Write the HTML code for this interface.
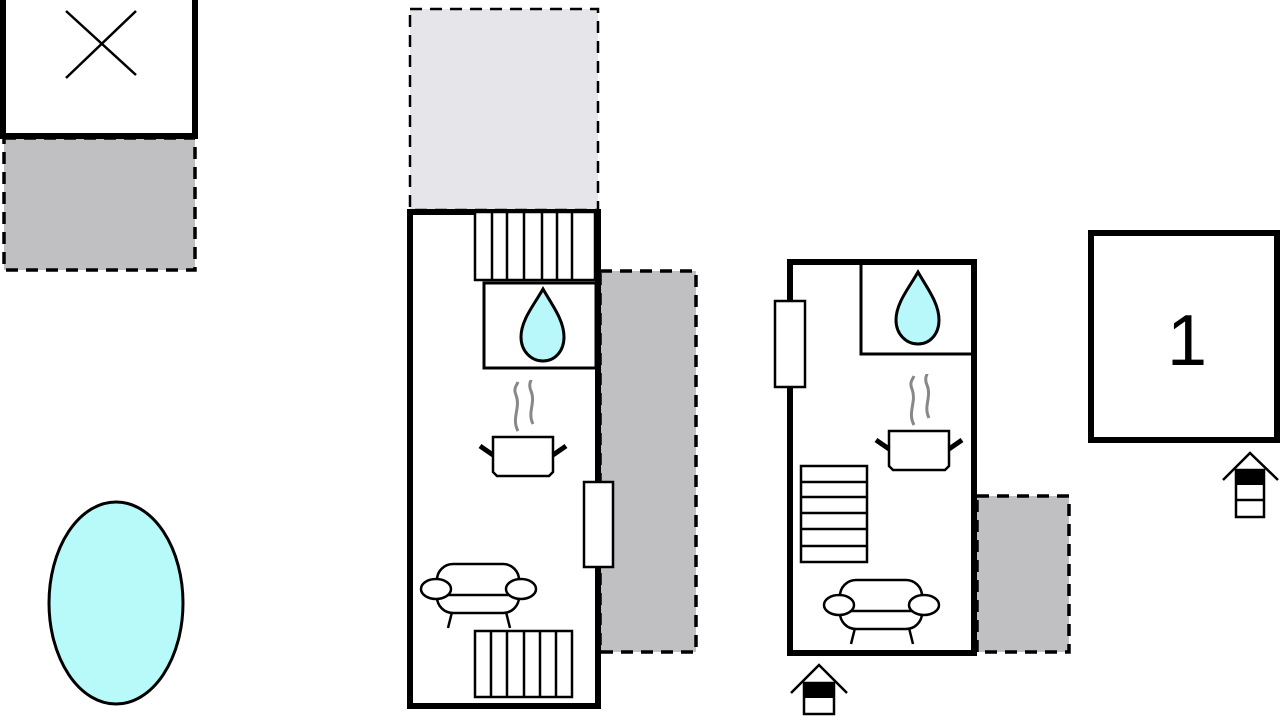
<!DOCTYPE html>
<html><head><meta charset="utf-8"><style>html,body{margin:0;padding:0;background:#fff;}svg{display:block}</style></head>
<body>
<svg width="1280" height="720" viewBox="0 0 1280 720" xmlns="http://www.w3.org/2000/svg">
<defs>
<g id="sofa" fill="#fff" stroke="#000" stroke-width="2.5">
  <line x1="452" y1="612" x2="448" y2="628"/>
  <line x1="506" y1="612" x2="510" y2="628"/>
  <rect x="437" y="564" width="82" height="49" rx="16"/>
  <line x1="445" y1="595" x2="512" y2="595"/>
  <ellipse cx="436" cy="589" rx="15" ry="10"/>
  <ellipse cx="521" cy="589" rx="15" ry="10"/>
</g>
<g id="pot" stroke-width="2.5">
  <path d="M493,437 H553 V472 L549,476 H497 L493,472 Z" fill="#fff" stroke="#000"/>
  <line x1="480" y1="446" x2="493" y2="455" stroke="#000" stroke-width="5"/>
  <line x1="566" y1="446" x2="553" y2="455" stroke="#000" stroke-width="5"/>
  <path d="M518,431 C511,418 521,408 516,395 C513,388 517,385 518,382" fill="none" stroke="#888" stroke-width="3"/>
  <path d="M533,424 C527,412 536,403 531,391 C528,384 531,381 531,380" fill="none" stroke="#888" stroke-width="3"/>
</g>
<path id="drop" d="M543,289 C534,305 521,320 521,337 C521,351 531,361 543,361 C555,361 564,351 564,337 C564,320 552,305 543,289 Z" fill="#b8f8fa" stroke="#000" stroke-width="3"/>
</defs>

<!-- top-left box -->
<rect x="4" y="138" width="191" height="132" fill="#c0c0c2" stroke="#000" stroke-width="3.5" stroke-dasharray="12,8"/>
<rect x="3" y="-10" width="192" height="146" fill="#fff" stroke="#000" stroke-width="6"/>
<line x1="66" y1="11" x2="136" y2="75" stroke="#000" stroke-width="2.5"/>
<line x1="66" y1="78" x2="136" y2="11" stroke="#000" stroke-width="2.5"/>

<!-- pool -->
<ellipse cx="116" cy="603" rx="67" ry="101" fill="#b8fafa" stroke="#000" stroke-width="3"/>

<!-- building 1 -->
<rect x="410" y="9" width="188" height="201" fill="#e6e6ea" stroke="#000" stroke-width="2.5" stroke-dasharray="12,8"/>
<rect x="600" y="271" width="96" height="381" fill="#c0c0c2" stroke="#000" stroke-width="3.5" stroke-dasharray="12,8"/>
<rect x="410" y="212" width="188" height="494" fill="#fff" stroke="#000" stroke-width="6"/>
<g fill="none" stroke="#000" stroke-width="2.5">
  <rect x="475" y="212" width="120" height="68" fill="#fff"/>
  <line x1="492" y1="212" x2="492" y2="280"/><line x1="507" y1="212" x2="507" y2="280"/>
  <line x1="524" y1="212" x2="524" y2="280"/><line x1="542" y1="212" x2="542" y2="280"/>
  <line x1="557" y1="212" x2="557" y2="280"/><line x1="572" y1="212" x2="572" y2="280"/>
  <rect x="484" y="283" width="112" height="85" stroke-width="3"/>
  <rect x="475" y="631" width="97" height="66"/>
  <line x1="491" y1="631" x2="491" y2="697"/><line x1="507" y1="631" x2="507" y2="697"/>
  <line x1="524" y1="631" x2="524" y2="697"/><line x1="540" y1="631" x2="540" y2="697"/>
  <line x1="556" y1="631" x2="556" y2="697"/>
</g>
<rect x="584" y="482" width="29" height="85" fill="#fff" stroke="#000" stroke-width="2.5"/>
<use href="#drop"/>
<use href="#pot"/>
<use href="#sofa"/>

<!-- building 2 -->
<rect x="977" y="496" width="92" height="156" fill="#c0c0c2" stroke="#000" stroke-width="3.5" stroke-dasharray="12,8"/>
<rect x="790" y="262" width="184" height="391" fill="#fff" stroke="#000" stroke-width="6"/>
<rect x="861" y="262" width="112" height="92" fill="none" stroke="#000" stroke-width="3"/>
<rect x="775" y="301" width="30" height="86" fill="#fff" stroke="#000" stroke-width="2.5"/>
<g fill="none" stroke="#000" stroke-width="2.5">
  <rect x="801" y="466" width="66" height="96"/>
  <line x1="801" y1="482" x2="867" y2="482"/><line x1="801" y1="497" x2="867" y2="497"/>
  <line x1="801" y1="513" x2="867" y2="513"/><line x1="801" y1="529" x2="867" y2="529"/>
  <line x1="801" y1="546" x2="867" y2="546"/>
</g>
<use href="#drop" transform="translate(375,-17)"/>
<use href="#pot" transform="translate(396,-6)"/>
<use href="#sofa" transform="translate(403,16)"/>

<!-- entrance arrow 1 -->
<polyline points="791,693 819,665 847,693" fill="none" stroke="#000" stroke-width="2.5"/>
<rect x="804" y="683" width="30" height="31" fill="#fff" stroke="#000" stroke-width="2.5"/>
<rect x="804" y="683" width="30" height="15" fill="#000"/>

<!-- box 1 -->
<rect x="1091" y="233" width="186" height="207" fill="#fff" stroke="#000" stroke-width="6"/>
<text x="1187" y="365" font-family="Liberation Sans, sans-serif" font-size="72" text-anchor="middle" fill="#000">1</text>
<polyline points="1223,480 1250,453 1278,480" fill="none" stroke="#000" stroke-width="2.5"/>
<rect x="1236" y="470" width="28" height="47" fill="#fff" stroke="#000" stroke-width="2.5"/>
<rect x="1236" y="470" width="28" height="15" fill="#000"/>
<line x1="1236" y1="500" x2="1264" y2="500" stroke="#000" stroke-width="2.5"/>
</svg>
</body></html>
